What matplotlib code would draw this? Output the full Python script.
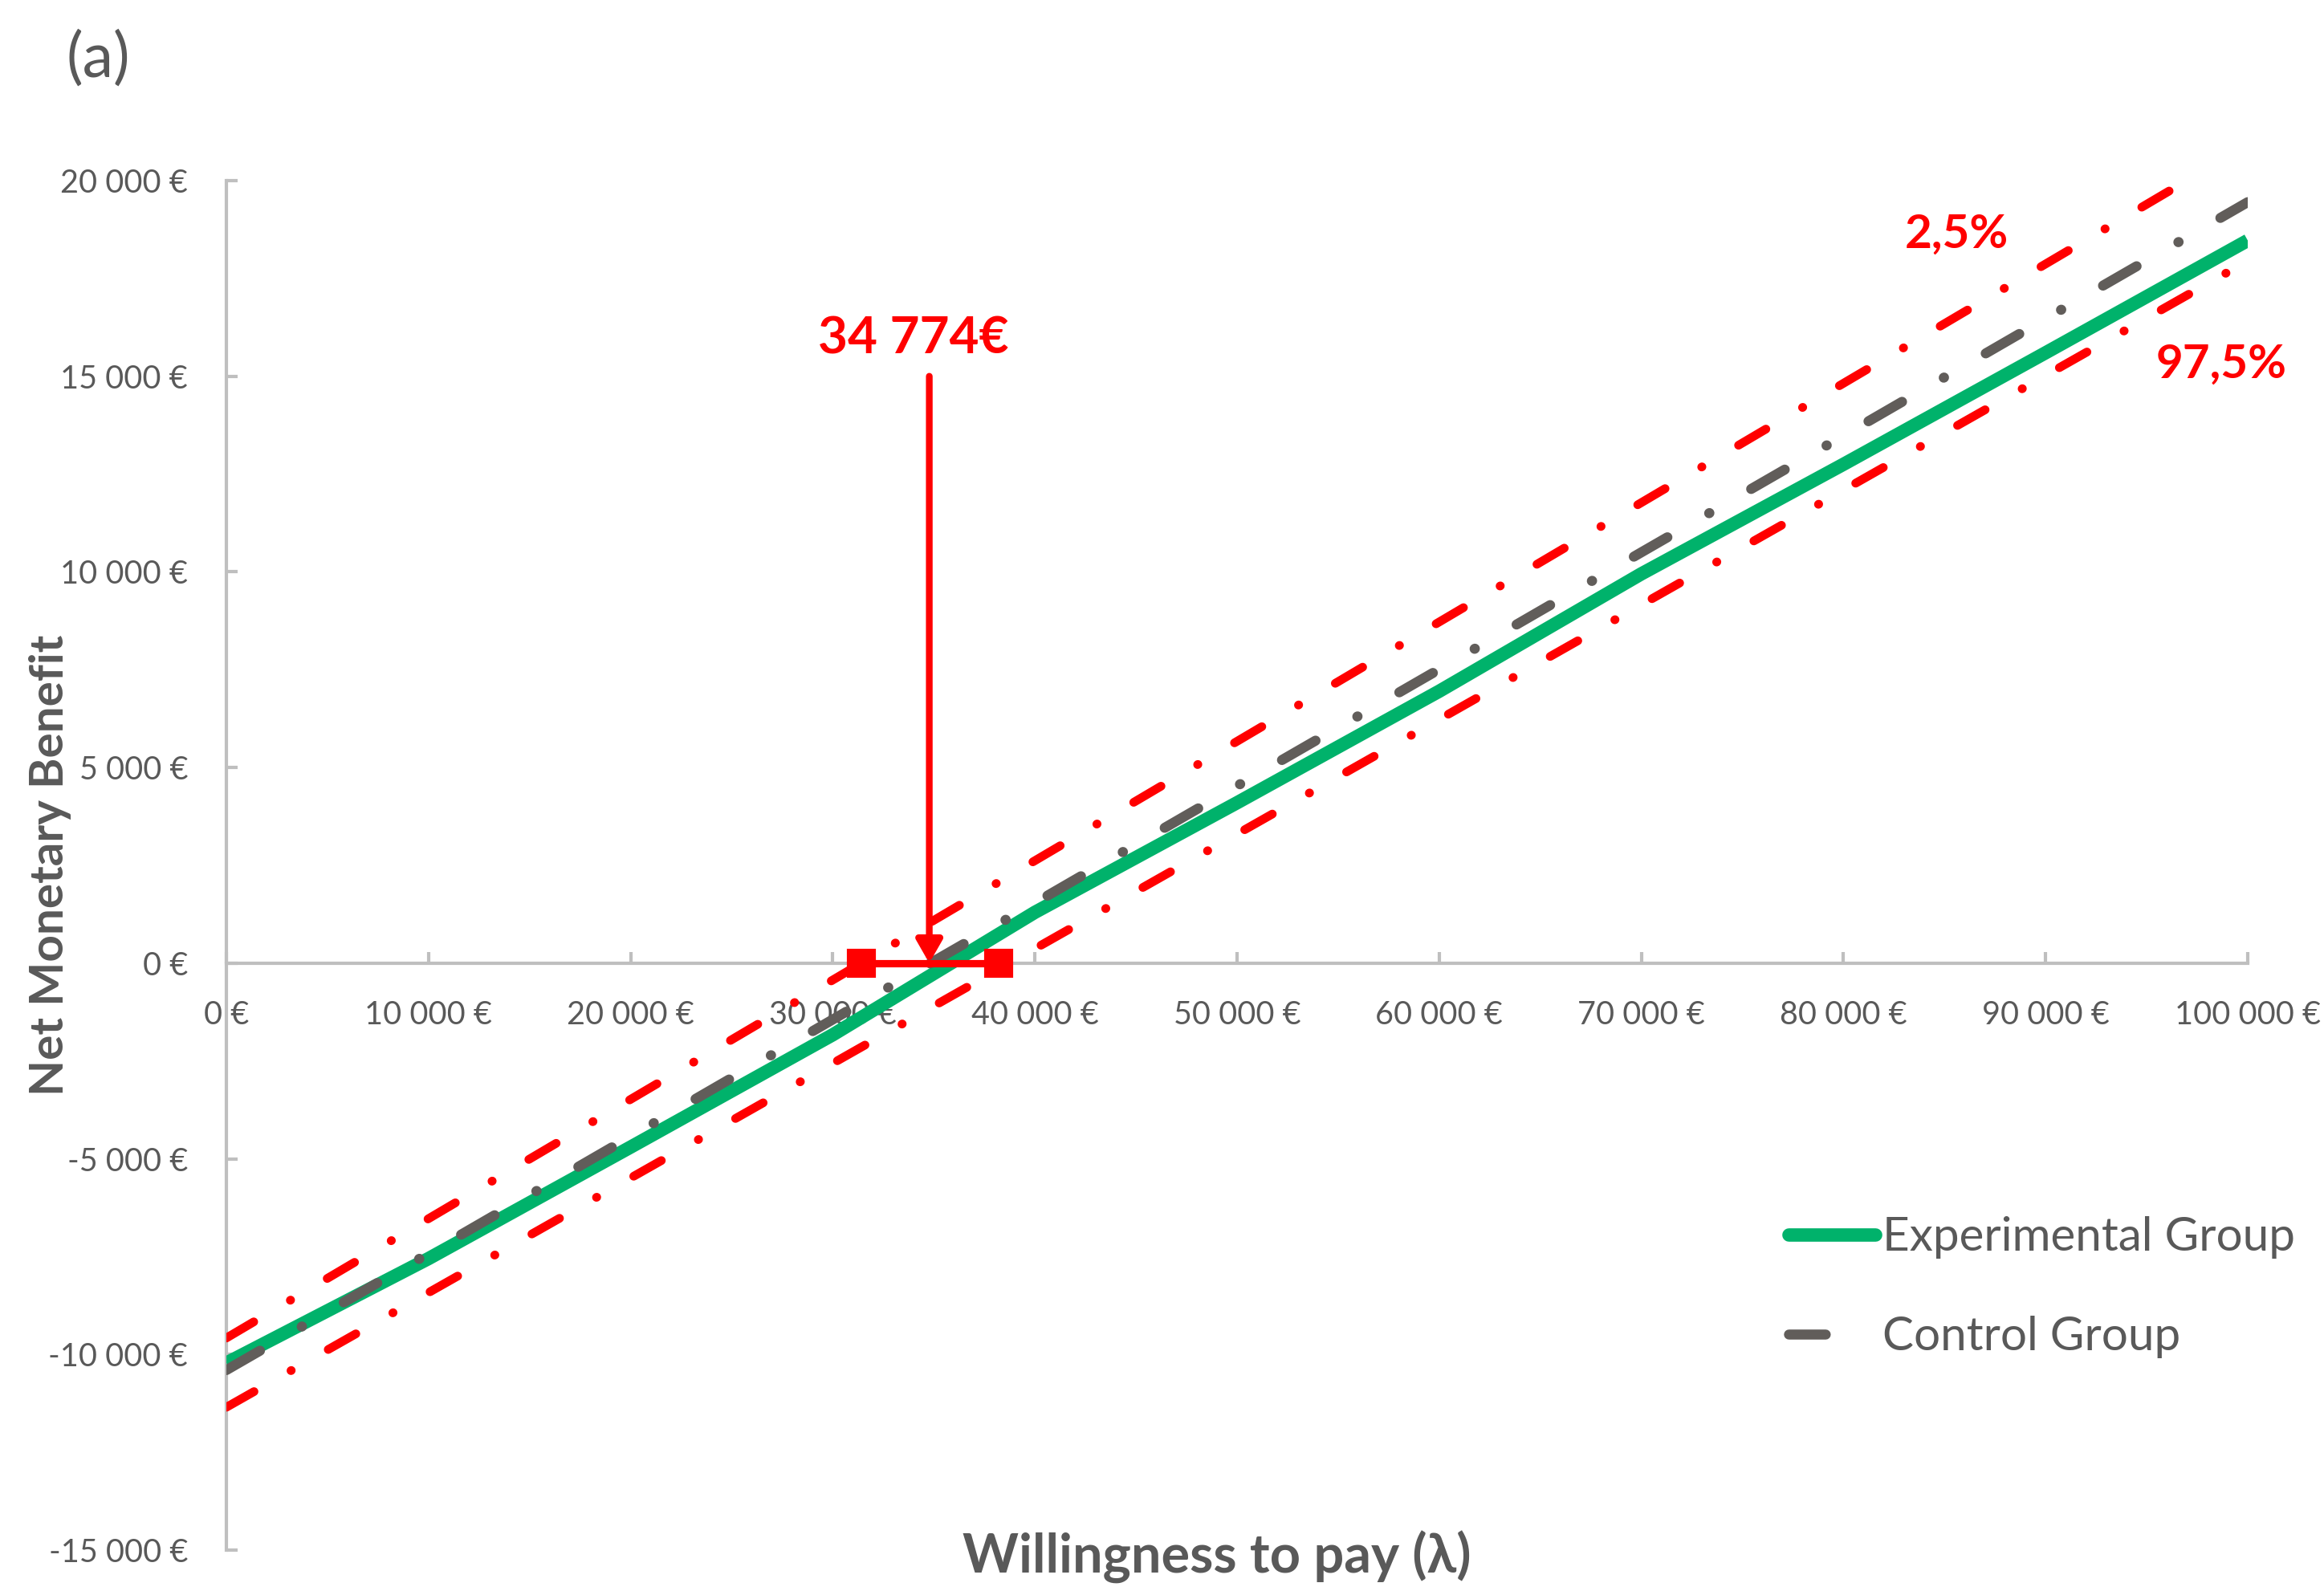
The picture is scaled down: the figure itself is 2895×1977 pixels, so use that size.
import matplotlib
matplotlib.use("Agg")
import matplotlib.pyplot as plt
from matplotlib.ticker import FuncFormatter, MultipleLocator

plt.rcParams['font.family'] = ['Lato', 'DejaVu Sans']
plt.rcParams['lines.scale_dashes'] = False

# willingness to pay (lambda) and net monetary benefit
wtp = [0, 10000, 20000, 30000, 40000, 50000, 60000, 70000, 80000, 90000, 100000]
nmb_experimental = [-10220, -7550, -4700, -1830, 1300, 4100, 6950, 9950, 12750, 15600, 18470]
nmb_control = [-10400, -7420, -4430, -1440, 1540, 4530, 7510, 10500, 13480, 16470, 19450]
nmb_p025 = [-9580, -6530, -3480, -430, 2620, 5670, 8720, 11770, 14820, 17870, 20920]
nmb_p975 = [-11350, -8420, -5490, -2560, 370, 3300, 6230, 9160, 12090, 15020, 17950]

icer = 34774
icer_low, icer_high = 31400, 38200
icer_label = "34 774€"

GREEN = '#00B26B'
GREY = '#615D5A'
RED = '#FF0000'
TXT = '#595959'
AXC = '#BFBFBF'


def euro(v, pos=None):
    return "{:,.0f}".format(v).replace(",", " ") + " €"


fig = plt.figure(figsize=(2895 / 300, 1977 / 300), dpi=300)
ax = fig.add_axes([282 / 2895, 1 - 1931 / 1977, (2800 - 282) / 2895, (1931 - 225) / 1977])

ax.plot(wtp, nmb_experimental, color=GREEN, lw=4.0, solid_capstyle='butt',
        label='Experimental Group', zorder=3)
ax.plot(wtp, nmb_control, color=GREY, lw=3.0, dashes=[11.6, 14.4, 0.1, 14.4],
        dash_capstyle='round', label='Control Group', zorder=4)
ax.plot(wtp, nmb_p025, color=RED, lw=2.6, dashes=[9.5, 12.7, 0.1, 12.7],
        dash_capstyle='round', zorder=5)
ax.plot(wtp, nmb_p975, color=RED, lw=2.6, dashes=[9.5, 12.7, 0.1, 12.7],
        dash_capstyle='round', zorder=5)

# ICER with its interval
ax.plot([icer_low, icer_high], [0, 0], color=RED, lw=2.2, marker='s', ms=7.6,
        zorder=6, clip_on=False)
ax.annotate('', xy=(icer, 0), xytext=(icer, 15000),
            arrowprops=dict(arrowstyle='-|>,head_length=0.35,head_width=0.2',
                            color=RED, lw=2.0, mutation_scale=16,
                            shrinkA=0, shrinkB=0), zorder=7)
ax.text(34000, 15950, icer_label, color=RED, fontsize=15.3, fontweight='bold',
        ha='center', va='center')
ax.text(85580, 18630, "2,5%", color=RED, fontsize=14, fontweight='bold',
        ha='center', va='center')
ax.text(98700, 15300, "97,5%", color=RED, fontsize=14, fontweight='bold',
        ha='center', va='center')

ax.set_xlim(0, 100000)
ax.set_ylim(-15000, 20000)
ax.xaxis.set_major_locator(MultipleLocator(10000))
ax.yaxis.set_major_locator(MultipleLocator(5000))
ax.xaxis.set_major_formatter(FuncFormatter(euro))
ax.yaxis.set_major_formatter(FuncFormatter(euro))

for s in ['top', 'right']:
    ax.spines[s].set_visible(False)
ax.spines['bottom'].set_position(('data', 0))
for s in ['left', 'bottom']:
    ax.spines[s].set_color(AXC)
    ax.spines[s].set_linewidth(1.0)
ax.tick_params(axis='both', direction='in', length=3.4, width=1.0, color=AXC,
               labelcolor=TXT, labelsize=9.5)
ax.tick_params(axis='x', pad=11)
ax.tick_params(axis='y', pad=11.5)

fig.text(1516 / 2895, 1 - 1940 / 1977, "Willingness to pay (λ)", color=TXT,
         fontsize=16, fontweight='bold', ha='center', va='center')
fig.text(63 / 2895, 1 - 1078 / 1977, "Net Monetary Benefit", color=TXT,
         fontsize=14, fontweight='bold', ha='center', va='center', rotation=90)
fig.text(122 / 2895, 1 - 74 / 1977, "(a)", color=TXT, fontsize=18.5,
         ha='center', va='center')

leg = ax.legend(loc='upper left', bbox_to_anchor=(2228 / 2895, 1 - 1515 / 1977),
                bbox_transform=fig.transFigure, frameon=False, fontsize=14,
                handlelength=1.85, handletextpad=0.15, labelspacing=1.22,
                borderpad=0, borderaxespad=0, labelcolor=TXT)
leg.get_lines()[0].set_solid_capstyle('round')
leg.get_lines()[1].set_dashes([11, 40])

fig.savefig("out.png", dpi=300)
